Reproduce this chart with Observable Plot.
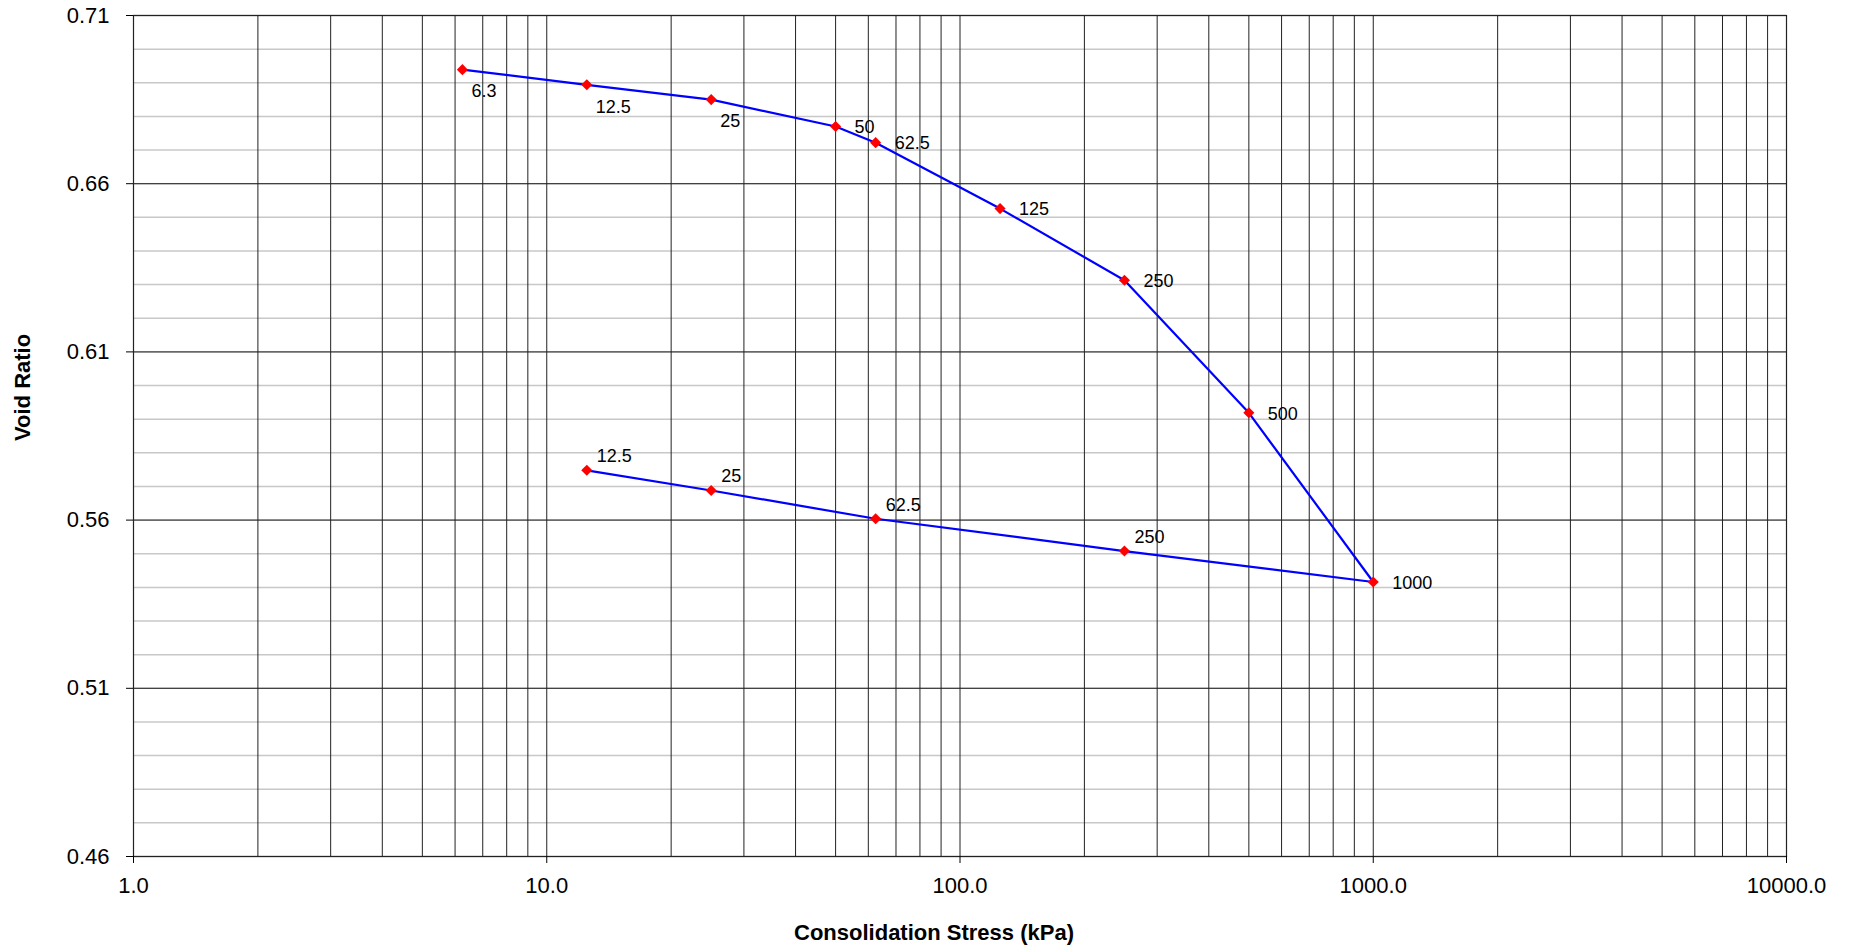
<!DOCTYPE html>
<html>
<head>
<meta charset="utf-8">
<script src="https://cdn.jsdelivr.net/npm/d3@7"></script>
<script src="https://cdn.jsdelivr.net/npm/@observablehq/plot@0.6"></script>
<style>
  html, body { margin: 0; padding: 0; background: #fff; }
  #chart svg { display: block; }
</style>
</head>
<body>
<div id="chart"></div>
<script>
// ---- Data ----
const stress = [6.25, 12.5, 25, 50, 62.5, 125, 250, 500, 1000, 250, 62.5, 25, 12.5];
const voidRatio = [0.6939, 0.6894, 0.6850, 0.6770, 0.6722, 0.6526, 0.6313, 0.5919, 0.5416, 0.5508, 0.5604, 0.5688, 0.5748];
const pointLabels = ["6.3", "12.5", "25", "50", "62.5", "125", "250", "500", "1000", "250", "62.5", "25", "12.5"];
const xTicks = [1, 10, 100, 1000, 10000];
const yTicks = [0.46, 0.51, 0.56, 0.61, 0.66, 0.71];
const xTitle = "Consolidation Stress (kPa)";
const yTitle = "Void Ratio";

const data = stress.map((s, i) => ({stress: s, e: voidRatio[i], label: pointLabels[i], i}));

const xGrid = [];
for (let p = 0; p < 4; p++) for (let m = 1; m <= 9; m++) xGrid.push(m * Math.pow(10, p));
xGrid.push(10000);
const yMinor = d3.range(46, 72).map(d => d / 100);

const font = "'Liberation Sans', Arial, Helvetica, sans-serif";

const chart = Plot.plot({
  width: 1853,
  height: 949,
  marginLeft: 133,
  marginRight: 67,
  marginTop: 15,
  marginBottom: 93,
  style: {fontFamily: font, fontSize: "22px", color: "#000", background: "#fff"},
  x: {type: "log", domain: [1, 10000]},
  y: {domain: [0.46, 0.71]},
  marks: [
    Plot.ruleY(yMinor, {stroke: "#c8c8c8", strokeWidth: 1.5}),
    Plot.ruleX(xGrid, {stroke: "#222", strokeWidth: 1}),
    Plot.ruleY(yTicks, {stroke: "#222", strokeWidth: 1}),
    Plot.frame({stroke: "#222", strokeWidth: 1.2}),
    Plot.axisX({ticks: xTicks, tickFormat: d3.format(".1f"), tickSize: 7, tickPadding: 14, label: null, fontSize: 22}),
    Plot.axisY({ticks: yTicks, tickFormat: d3.format(".2f"), tickSize: 7, tickPadding: 17, label: null, fontSize: 22}),
    Plot.line(data, {x: "stress", y: "e", stroke: "#0000ff", strokeWidth: 2.2}),
    Plot.dot(data, {x: "stress", y: "e", symbol: "diamond2", r: 5, fill: "#ff0000", stroke: "none"}),
    Plot.text(data.filter(d => d.i <= 2), {x: "stress", y: "e", text: "label", textAnchor: "start", dx: 9, dy: 22, fontSize: 18, fill: "#000"}),
    Plot.text(data.filter(d => d.i >= 3 && d.i <= 8), {x: "stress", y: "e", text: "label", textAnchor: "start", dx: 19, dy: 1, fontSize: 18, fill: "#000"}),
    Plot.text(data.filter(d => d.i >= 9), {x: "stress", y: "e", text: "label", textAnchor: "start", dx: 10, dy: -14, fontSize: 18, fill: "#000"}),
    Plot.text([xTitle], {frameAnchor: "bottom", text: d => d, dx: -26, dy: 83, fontSize: 22, fontWeight: "bold", fill: "#000"}),
    Plot.text([yTitle], {frameAnchor: "left", text: d => d, rotate: -90, dx: -111, dy: 5, fontSize: 22, fontWeight: "bold", fill: "#000"})
  ]
});

document.getElementById("chart").appendChild(chart);
</script>
</body>
</html>
